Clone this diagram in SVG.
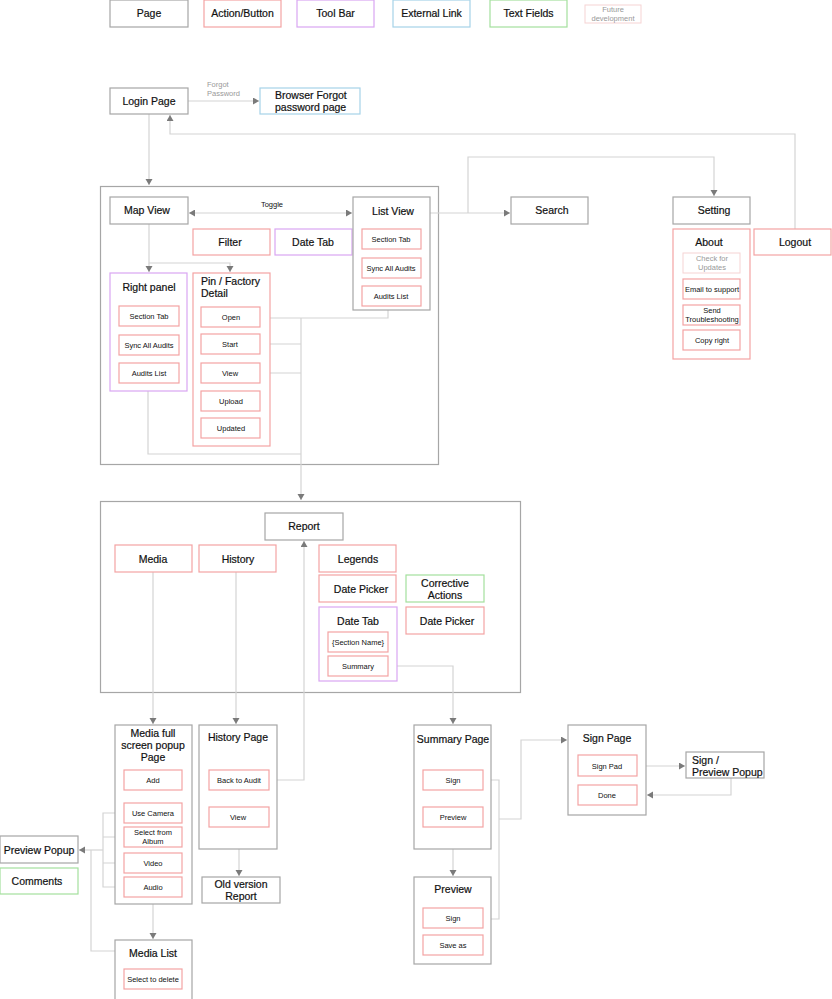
<svg xmlns="http://www.w3.org/2000/svg" width="832" height="999" viewBox="0 0 832 999">
<style>
text{font-family:"Liberation Sans",Arial,sans-serif;fill:#111;text-anchor:middle}
.t{font-size:10.5px;stroke:#111;stroke-width:0.2}
.s{font-size:7.5px}
.page{fill:#fff;stroke:#a6a6a6;stroke-width:1.2}
.act{fill:#fff;stroke:#f3a3a3;stroke-width:1.2}
.tool{fill:#fff;stroke:#d9a6f2;stroke-width:1.2}
.ext{fill:#fff;stroke:#a6d3e8;stroke-width:1.2}
.txt{fill:#fff;stroke:#a3e09d;stroke-width:1.2}
.fut{fill:#fff;stroke:#f6d3d3;stroke-width:1}
.cont{fill:none;stroke:#a6a6a6;stroke-width:1.2}
.ln{fill:none;stroke:#d4d4d4;stroke-width:1.2}
.g{fill:#999}
</style>
<defs>
<marker id="ar" markerUnits="userSpaceOnUse" markerWidth="8" markerHeight="8" refX="6" refY="3.5" orient="auto">
<path d="M0,0 L6,3.5 L0,7 Z" fill="#7a7a7a"/>
</marker>
<marker id="as" markerUnits="userSpaceOnUse" markerWidth="8" markerHeight="8" refX="0" refY="3.5" orient="auto">
<path d="M6,0 L0,3.5 L6,7 Z" fill="#7a7a7a"/>
</marker>
</defs>

<g id="legend">
<rect class="page" x="110" y="0" width="78" height="27"/><text class="t" x="149" y="17">Page</text>
<rect class="act" x="204" y="0" width="77" height="27"/><text class="t" x="242.5" y="17">Action/Button</text>
<rect class="tool" x="297" y="0" width="77" height="27"/><text class="t" x="335.5" y="17">Tool Bar</text>
<rect class="ext" x="393" y="0" width="77" height="27"/><text class="t" x="431.5" y="17">External Link</text>
<rect class="txt" x="490" y="0" width="77" height="27"/><text class="t" x="528.5" y="17">Text Fields</text>
<rect class="fut" x="585" y="5" width="56" height="18"/><text class="s g" x="613" y="12">Future</text><text class="s g" x="613" y="20.5">development</text>
</g>

<g id="containers">
<rect class="cont" x="100.5" y="186.5" width="338" height="278"/>
<rect class="cont" x="100.5" y="501.5" width="420" height="191"/>
</g>

<g id="connectors">
<path class="ln" d="M188,101 H259" marker-end="url(#ar)"/>
<text class="s g" x="207" y="87" style="text-anchor:start">Forgot</text>
<text class="s g" x="207" y="96" style="text-anchor:start">Password</text>
<path class="ln" d="M149,114 V185" marker-end="url(#ar)"/>
<path class="ln" d="M795,229 V134 H170 V115" marker-end="url(#ar)"/>
<path class="ln" d="M189,213 H352" marker-start="url(#as)" marker-end="url(#ar)"/>
<text class="s" x="272" y="207">Toggle</text>
<path class="ln" d="M430,213 H510" marker-end="url(#ar)"/>
<path class="ln" d="M468,213 V157 H714 V196" marker-end="url(#ar)"/>
<path class="ln" d="M149,224 V263 H230 V272" marker-end="url(#ar)"/>
<path class="ln" d="M149,263 V272" marker-end="url(#ar)"/>
<path class="ln" d="M391,278 V285" marker-end="url(#ar)"/>
<path class="ln" d="M149,355 V362" marker-end="url(#ar)"/>
<path class="ln" d="M260,318 H388 V306"/>
<path class="ln" d="M260,344 H301"/>
<path class="ln" d="M260,373 H301"/>
<path class="ln" d="M148,383 V454 H301"/>
<path class="ln" d="M301,318 V500" marker-end="url(#ar)"/>
<path class="ln" d="M153,572 V724" marker-end="url(#ar)"/>
<path class="ln" d="M236,572 V724" marker-end="url(#ar)"/>
<path class="ln" d="M269,780 H304 V541" marker-end="url(#ar)"/>
<path class="ln" d="M388,666 H453 V724" marker-end="url(#ar)"/>
<path class="ln" d="M124,813 H103 V887 H124 M103,837 H124 M103,863 H124"/>
<path class="ln" d="M103,850 H79" marker-end="url(#ar)"/>
<path class="ln" d="M115,951 H91 V850"/>
<path class="ln" d="M153,904 V939" marker-end="url(#ar)"/>
<path class="ln" d="M239,827 V876" marker-end="url(#ar)"/>
<path class="ln" d="M453,828 V876" marker-end="url(#ar)"/>
<path class="ln" d="M483,780 H499 V919 H483"/>
<path class="ln" d="M499,819 H521 V740 H567" marker-end="url(#ar)"/>
<path class="ln" d="M637,766 H685" marker-end="url(#ar)"/>
<path class="ln" d="M731,778 V795 H647" marker-end="url(#ar)"/>
</g>

<g id="login"><rect class="page" x="110" y="88" width="78" height="26"/><text class="t" x="149" y="105">Login Page</text></g>
<g id="forgot"><rect class="ext" x="260" y="88" width="100" height="26"/><text class="t" x="275" y="99" style="text-anchor:start">Browser Forgot</text><text class="t" x="275" y="111" style="text-anchor:start">password page</text></g>

<g id="mapview"><rect class="page" x="110" y="197" width="78" height="27"/><text class="t" x="147" y="214">Map View</text></g>
<g id="filter"><rect class="act" x="193" y="229" width="77" height="26"/><text class="t" x="230" y="246">Filter</text></g>
<g id="datetab1"><rect class="tool" x="275" y="229" width="77" height="26"/><text class="t" x="313" y="246">Date Tab</text></g>
<g id="listview"><rect class="page" x="353" y="197" width="77" height="113"/><text class="t" x="393" y="215">List View</text>
<rect class="act" x="362" y="229" width="59" height="20"/><text class="s" x="391" y="242">Section Tab</text>
<rect class="act" x="362" y="258" width="59" height="20"/><text class="s" x="391" y="271">Sync All Audits</text>
<rect class="act" x="362" y="286" width="59" height="20"/><text class="s" x="391" y="299">Audits List</text></g>
<g id="rightpanel"><rect class="tool" x="110" y="273" width="77" height="118"/><text class="t" x="149" y="291">Right panel</text>
<rect class="act" x="119" y="306" width="60" height="20"/><text class="s" x="149" y="319">Section Tab</text>
<rect class="act" x="119" y="335" width="60" height="20"/><text class="s" x="149" y="348">Sync All Audits</text>
<rect class="act" x="119" y="363" width="60" height="20"/><text class="s" x="149" y="376">Audits List</text></g>
<g id="pin"><rect class="act" x="193" y="273" width="77" height="173"/><text class="t" x="201" y="285" style="text-anchor:start">Pin / Factory</text><text class="t" x="201" y="297" style="text-anchor:start">Detail</text>
<rect class="act" x="201" y="307" width="59" height="20"/><text class="s" x="231" y="320">Open</text>
<rect class="act" x="201" y="334" width="59" height="20"/><text class="s" x="230" y="347">Start</text>
<rect class="act" x="201" y="363" width="59" height="20"/><text class="s" x="230" y="376">View</text>
<rect class="act" x="201" y="391" width="59" height="20"/><text class="s" x="231" y="404">Upload</text>
<rect class="act" x="201" y="418" width="59" height="20"/><text class="s" x="231" y="431">Updated</text></g>

<g id="search"><rect class="page" x="511" y="197" width="77" height="27"/><text class="t" x="552" y="214">Search</text></g>
<g id="setting"><rect class="page" x="673" y="197" width="77" height="27"/><text class="t" x="714" y="214">Setting</text></g>
<g id="about"><rect class="act" x="673" y="229" width="77" height="130"/><text class="t" x="709" y="246">About</text>
<rect class="fut" x="683" y="253" width="57" height="20"/><text class="s g" x="712" y="261">Check for</text><text class="s g" x="712" y="270">Updates</text>
<rect class="act" x="683" y="279" width="57" height="20"/><text class="s" x="712" y="292">Email to support</text>
<rect class="act" x="683" y="305" width="57" height="20"/><text class="s" x="712" y="313">Send</text><text class="s" x="712" y="322">Troubleshooting</text>
<rect class="act" x="683" y="330" width="57" height="20"/><text class="s" x="712" y="343">Copy right</text></g>
<g id="logout"><rect class="act" x="754" y="229" width="77" height="26"/><text class="t" x="795" y="246">Logout</text></g>

<g id="report"><rect class="page" x="265" y="513" width="78" height="27"/><text class="t" x="304" y="530">Report</text></g>
<g id="media"><rect class="act" x="115" y="545" width="77" height="27"/><text class="t" x="153" y="563">Media</text></g>
<g id="history"><rect class="act" x="199" y="545" width="77" height="27"/><text class="t" x="238" y="563">History</text></g>
<g id="legends"><rect class="act" x="319" y="545" width="77" height="27"/><text class="t" x="358" y="563">Legends</text></g>
<g id="datepicker1"><rect class="act" x="319" y="575" width="77" height="27"/><text class="t" x="361" y="593">Date Picker</text></g>
<g id="corrective"><rect class="txt" x="406" y="575" width="78" height="27"/><text class="t" x="445" y="587">Corrective</text><text class="t" x="445" y="599">Actions</text></g>
<g id="datepicker2"><rect class="act" x="406" y="607" width="78" height="27"/><text class="t" x="447" y="625">Date Picker</text></g>
<g id="datetab2"><rect class="tool" x="319" y="607" width="78" height="74"/><text class="t" x="358" y="625">Date Tab</text>
<rect class="act" x="328" y="632" width="60" height="20"/><text class="s" x="358" y="645">{Section Name}</text>
<rect class="act" x="328" y="656" width="60" height="20"/><text class="s" x="358" y="669">Summary</text></g>

<g id="mediafull"><rect class="page" x="115" y="725" width="77" height="179"/><text class="t" x="153" y="737">Media full</text><text class="t" x="153" y="749">screen popup</text><text class="t" x="153" y="761">Page</text>
<rect class="act" x="124" y="770" width="58" height="20"/><text class="s" x="153" y="783">Add</text>
<rect class="act" x="124" y="803" width="58" height="20"/><text class="s" x="153" y="816">Use Camera</text>
<rect class="act" x="124" y="827" width="58" height="20"/><text class="s" x="153" y="835">Select from</text><text class="s" x="153" y="844">Album</text>
<rect class="act" x="124" y="853" width="58" height="20"/><text class="s" x="153" y="866">Video</text>
<rect class="act" x="124" y="877" width="58" height="20"/><text class="s" x="153" y="890">Audio</text></g>
<g id="previewpopup"><rect class="page" x="0" y="836" width="78" height="27"/><text class="t" x="39" y="854">Preview Popup</text></g>
<g id="comments"><rect class="txt" x="0" y="868" width="78" height="26"/><text class="t" x="37" y="885">Comments</text></g>
<g id="medialist"><rect class="page" x="115" y="940" width="77" height="62"/><text class="t" x="153" y="957">Media List</text>
<rect class="act" x="124" y="969" width="58" height="20"/><text class="s" x="153" y="982">Select to delete</text></g>
<g id="historypage"><rect class="page" x="199" y="725" width="78" height="124"/><text class="t" x="238" y="741">History Page</text>
<rect class="act" x="209" y="770" width="60" height="20"/><text class="s" x="239" y="783">Back to Audit</text>
<rect class="act" x="209" y="807" width="60" height="20"/><text class="s" x="238" y="820">View</text></g>
<g id="oldversion"><rect class="page" x="202" y="877" width="78" height="26"/><text class="t" x="241" y="888">Old version</text><text class="t" x="241" y="900">Report</text></g>
<g id="summarypage"><rect class="page" x="414" y="725" width="77" height="124"/><text class="t" x="453" y="743">Summary Page</text>
<rect class="act" x="423" y="770" width="60" height="20"/><text class="s" x="453" y="783">Sign</text>
<rect class="act" x="423" y="807" width="60" height="20"/><text class="s" x="453" y="820">Preview</text></g>
<g id="previewpage"><rect class="page" x="414" y="877" width="77" height="87"/><text class="t" x="453" y="893">Preview</text>
<rect class="act" x="423" y="908" width="60" height="20"/><text class="s" x="453" y="921">Sign</text>
<rect class="act" x="423" y="935" width="60" height="20"/><text class="s" x="453" y="948">Save as</text></g>
<g id="signpage"><rect class="page" x="568" y="725" width="78" height="90"/><text class="t" x="607" y="742">Sign Page</text>
<rect class="act" x="578" y="755" width="59" height="21"/><text class="s" x="607" y="769">Sign Pad</text>
<rect class="act" x="578" y="785" width="59" height="20"/><text class="s" x="607" y="798">Done</text></g>
<g id="signpopup"><rect class="page" x="686" y="752" width="78" height="26"/><text class="t" x="692" y="764" style="text-anchor:start">Sign /</text><text class="t" x="692" y="776" style="text-anchor:start">Preview Popup</text></g>
</svg>
